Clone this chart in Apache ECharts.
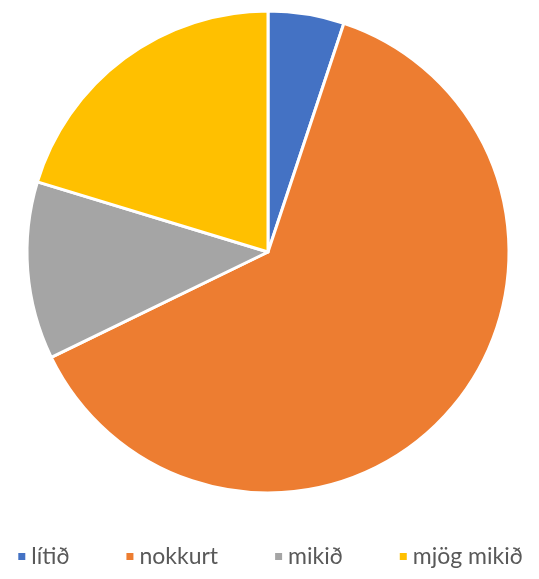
<!DOCTYPE html>
<html>
<head>
<meta charset="utf-8">
<style>
  html, body { margin: 0; padding: 0; background: #ffffff; }
  #chart { width: 539px; height: 579px; }
</style>
<script src="https://cdn.jsdelivr.net/npm/echarts@6/dist/echarts.min.js"></script>
</head>
<body>
<div id="chart"></div>
<script>
// Answer categories and their shares (%)
const categories = ['lítið', 'nokkurt', 'mikið', 'mjög mikið'];
const shares = [5.1, 62.7, 11.9, 20.3];
const colors = ['#4472C4', '#ED7D31', '#A5A5A5', '#FFC000'];

const chart = echarts.init(document.getElementById('chart'), null, { renderer: 'canvas' });

chart.setOption({
  animation: false,
  backgroundColor: '#ffffff',
  color: colors,
  legend: {
    data: categories,
    bottom: 6,
    left: 'center',
    icon: 'rect',
    itemWidth: 9,
    itemHeight: 9,
    itemGap: 55,
    textStyle: { color: '#595959', fontSize: 23, fontFamily: 'Lato, "Open Sans", sans-serif' }
  },
  series: [{
    type: 'pie',
    center: [268, 252],
    radius: [0, 241],
    startAngle: 90,
    clockwise: true,
    label: { show: false },
    labelLine: { show: false },
    itemStyle: { borderColor: '#ffffff', borderWidth: 3 },
    data: categories.map((name, i) => ({ name: name, value: shares[i] }))
  }]
});
</script>
</body>
</html>
